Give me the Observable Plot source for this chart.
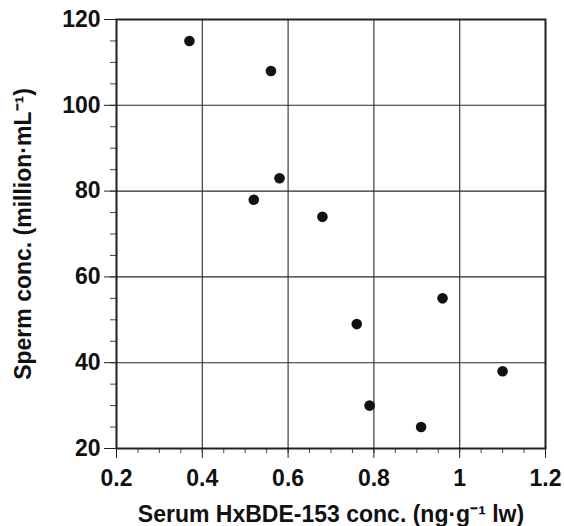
<!DOCTYPE html>
<html>
<head>
<meta charset="utf-8">
<script src="https://cdn.jsdelivr.net/npm/d3@7"></script>
<script src="https://cdn.jsdelivr.net/npm/@observablehq/plot@0.6"></script>
<style>
  html, body { margin: 0; padding: 0; background: #fff; }
</style>
</head>
<body>
<div id="chart"></div>
<script>
const hxbde = [0.37, 0.56, 0.58, 0.52, 0.68, 0.76, 0.96, 0.79, 0.91, 1.10];
const sperm = [115, 108, 83, 78, 74, 49, 55, 30, 25, 38];
const xTicks = [0.2, 0.4, 0.6, 0.8, 1.0, 1.2];
const xTickLabels = ["0.2", "0.4", "0.6", "0.8", "1", "1.2"];
const yTicks = [20, 40, 60, 80, 100, 120];
const xMinor = d3.range(0.25, 1.2, 0.05).map(v => +v.toFixed(2));
const yMinor = d3.range(25, 120, 5);
const xTitle = "Serum HxBDE-153 conc. (ng·g⁻¹ lw)";
const yTitle = "Sperm conc. (million·mL⁻¹)";

const data = hxbde.map((x, i) => ({x, y: sperm[i]}));

const chart = Plot.plot({
  width: 564,
  height: 526,
  marginLeft: 116,
  marginRight: 19,
  marginTop: 19,
  marginBottom: 78,
  style: {fontFamily: "'Liberation Sans', Arial, sans-serif", fontWeight: "bold", fontSize: "23px", color: "#111", background: "#fff"},
  x: {domain: [0.2, 1.2]},
  y: {domain: [20, 120]},
  marks: [
    Plot.gridX(xTicks, {stroke: "#2a2a2a", strokeOpacity: 1, strokeWidth: 1.1}),
    Plot.gridY(yTicks, {stroke: "#2a2a2a", strokeOpacity: 1, strokeWidth: 1.1}),
    Plot.axisX(xMinor, {tickSize: 5, text: null, label: null, stroke: "#444"}),
    Plot.axisY(yMinor, {tickSize: 6, text: null, label: null, stroke: "#444"}),
    Plot.axisX(xTicks, {tickSize: 10, tickPadding: 11, fontSize: 23, fontWeight: "bold", tickFormat: (d, i) => xTickLabels[i], stroke: "#222",
      label: xTitle, labelAnchor: "center", labelOffset: 73, labelArrow: "none"}),
    Plot.axisY(yTicks, {tickSize: 12, tickPadding: 4, fontSize: 23, fontWeight: "bold", stroke: "#222",
      label: yTitle, labelAnchor: "center", labelOffset: 102, labelArrow: "none"}),
    Plot.frame({stroke: "#222", strokeWidth: 2}),
    Plot.dot(data, {x: "x", y: "y", r: 5.3, fill: "#111", stroke: "none"})
  ]
});
document.getElementById("chart").appendChild(chart);
</script>
</body>
</html>
